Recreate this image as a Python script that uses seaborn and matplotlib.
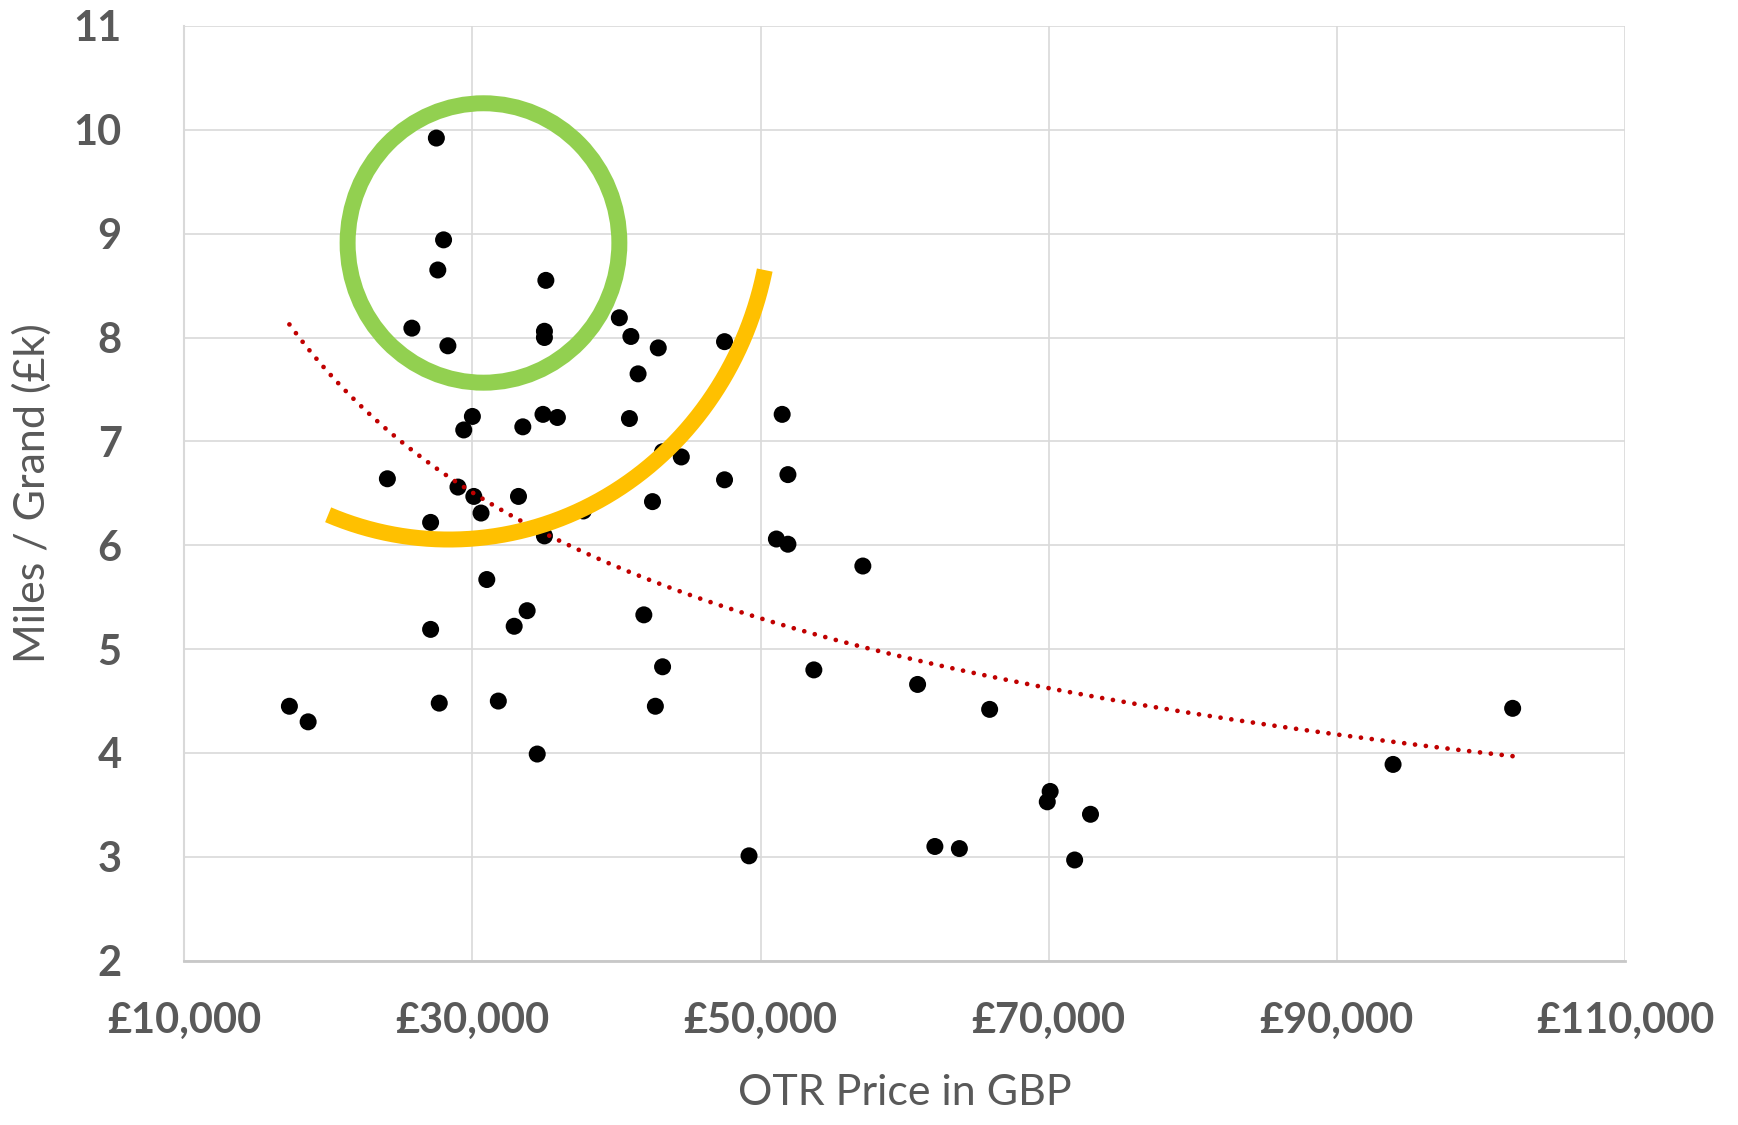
import numpy as np
import pandas as pd
import seaborn as sns
import matplotlib.pyplot as plt
from matplotlib.patches import Ellipse

# OTR price (GBP) and miles per grand
price = [17300, 18600, 24100, 25800, 27100, 27100, 27500, 27600, 27700, 28000,
         28300, 29000, 29400, 30000, 30100, 30600, 31000, 31800, 32900, 33200,
         33500, 33800, 34500, 34900, 35000, 35000, 35000, 35100, 35900, 37700,
         40200, 40900, 41000, 41500, 41900, 42500, 42700, 42900, 43200, 43200,
         44500, 47500, 47500, 49200, 51100, 51500, 51900, 51900, 53700, 57100,
         60900, 62100, 63800, 65900, 69900, 70100, 71800, 72900, 93900, 102200]
miles_per_grand = [4.45, 4.30, 6.64, 8.09, 6.22, 5.19, 9.92, 8.65, 4.48, 8.94,
                   7.92, 6.56, 7.11, 7.24, 6.47, 6.31, 5.67, 4.50, 5.22, 6.47,
                   7.14, 5.37, 3.99, 7.26, 6.09, 8.06, 8.00, 8.55, 7.23, 6.33,
                   8.19, 7.22, 8.01, 7.65, 5.33, 6.42, 4.45, 7.90, 4.83, 6.90,
                   6.85, 7.96, 6.63, 3.01, 6.06, 7.26, 6.68, 6.01, 4.80, 5.80,
                   4.66, 3.10, 3.08, 4.42, 3.53, 3.63, 2.97, 3.41, 3.89, 4.43]

x_ticks = [10000, 30000, 50000, 70000, 90000, 110000]
y_ticks = [2, 3, 4, 5, 6, 7, 8, 9, 10, 11]

df = pd.DataFrame({'price': price, 'mpg': miles_per_grand})

sns.set_theme(style='white')
plt.rcParams['font.family'] = ['Lato', 'DejaVu Sans']

fig = plt.figure(figsize=(17.38, 11.25), dpi=100)
ax = fig.add_axes([0.106, 0.146, 0.829, 0.831])

grey = '#595959'

sns.scatterplot(data=df, x='price', y='mpg', color='black', s=150,
                edgecolor='none', ax=ax, zorder=3)

# power trendline (Excel style) fitted on the points
b, ln_a = np.polyfit(np.log(df['price']), np.log(df['mpg']), 1)
xs = np.linspace(df['price'].min(), df['price'].max(), 200)
ax.plot(xs, np.exp(ln_a) * xs ** b, color='#C00000', lw=3.4,
        linestyle=(0, (0.01, 2.3)), dash_capstyle='round', zorder=4)

# highlight shapes
ax.add_patch(Ellipse((30770, 8.91), 18860, 2.69, fill=False,
                     edgecolor='#92D050', lw=11.5, zorder=5))
t = np.deg2rad(np.linspace(248, 348, 200))
ax.plot(28380 + 22400 * np.cos(t), 9.33 + 3.275 * np.sin(t),
        color='#FFC000', lw=11.5, solid_capstyle='butt', zorder=5)

ax.set_xlim(10000, 110000)
ax.set_ylim(2, 11)
ax.set_xticks(x_ticks)
ax.set_yticks(y_ticks)
ax.set_xticklabels([f'£{v:,}' for v in x_ticks])
ax.grid(True, color='#d9d9d9', lw=1.2)
ax.set_axisbelow(True)
for side in ['top', 'right']:
    ax.spines[side].set_visible(False)
ax.spines['left'].set_color('#d9d9d9')
ax.spines['bottom'].set_color('#c8c8c8')
ax.spines['left'].set_linewidth(1.5)
ax.spines['bottom'].set_linewidth(2)

ax.tick_params(axis='both', length=0, labelsize=30, labelcolor=grey)
ax.tick_params(axis='x', pad=30)
ax.tick_params(axis='y', pad=45)
for lab in ax.get_xticklabels() + ax.get_yticklabels():
    lab.set_fontweight('bold')

ax.set_xlabel('OTR Price in GBP', fontsize=31, color=grey, labelpad=24)
ax.set_ylabel('Miles / Grand (£k)', fontsize=31, color=grey, labelpad=16)

fig.savefig('out.png', dpi=100)
